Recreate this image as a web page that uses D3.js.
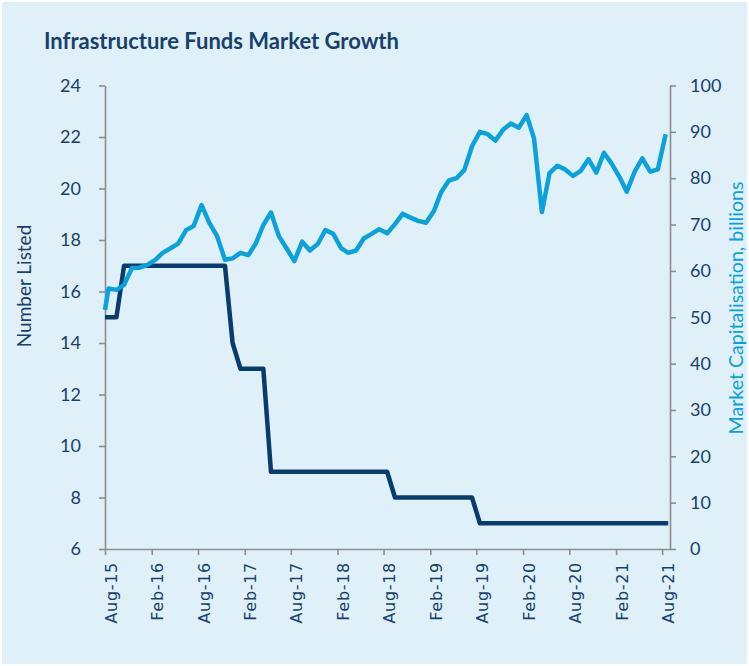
<!DOCTYPE html>
<html>
<head>
<meta charset="utf-8">
<script src="https://cdn.jsdelivr.net/npm/d3@7"></script>
<style>
  body { margin: 0; background: #ffffff; }
</style>
</head>
<body>
<svg id="chart" width="749" height="666"></svg>
<script>
// ---- data ----------------------------------------------------------------
// Monthly observations, Aug-15 .. Aug-21 (plotted mid-month)
const firstMonth = "2015-08";
const lastMonth = "2021-08";

// Market capitalisation, billions (right axis)
const marketCap = [
  56.2, 55.9, 57.0, 60.6, 60.7, 61.3, 62.4, 63.9, 64.9, 65.9, 68.8, 69.7,
  74.2, 70.3, 67.5, 62.4, 62.7, 63.9, 63.4, 65.8, 69.9, 72.6, 67.5, 64.9,
  62.1, 66.3, 64.4, 65.8, 68.8, 68.0, 64.9, 63.9, 64.4, 67.0, 68.0, 69.0,
  68.1, 70.1, 72.3, 71.5, 70.8, 70.4, 72.9, 76.9, 79.5, 80.0, 81.8, 86.9,
  90.0, 89.5, 88.1, 90.5, 91.8, 90.9, 93.6, 88.6, 72.7, 81.1, 82.7, 81.9,
  80.5, 81.6, 84.1, 81.2, 85.5, 83.1, 80.2, 77.1, 81.4, 84.3, 81.4, 81.9,
  89.5
];

// Number of funds listed (left axis)
const numberListed = [
  15, 15, 17, 17, 17, 17, 17, 17, 17, 17, 17, 17,
  17, 17, 17, 17, 14, 13, 13, 13, 13, 9, 9, 9,
  9, 9, 9, 9, 9, 9, 9, 9, 9, 9, 9, 9,
  9, 8, 8, 8, 8, 8, 8, 8, 8, 8, 8, 8,
  7, 7, 7, 7, 7, 7, 7, 7, 7, 7, 7, 7,
  7, 7, 7, 7, 7, 7, 7, 7, 7, 7, 7, 7,
  7
];

// Opening / closing observations outside the mid-month grid
const openDate = "2015-08-01";
const capOpen = 51.6;
const listedOpen = 15;
const closeDate = "2021-08-25";
const listedClose = 7;

// Axis labelling
const xTickLabels = ["Aug-15", "Feb-16", "Aug-16", "Feb-17", "Aug-17", "Feb-18", "Aug-18",
                     "Feb-19", "Aug-19", "Feb-20", "Aug-20", "Feb-21", "Aug-21"];
const leftTicks = [6, 8, 10, 12, 14, 16, 18, 20, 22, 24];
const rightTicks = [0, 10, 20, 30, 40, 50, 60, 70, 80, 90, 100];

const titleText = "Infrastructure Funds Market Growth";
const leftTitle = "Number Listed";
const rightTitle = "Market Capitalisation, billions";

// ---- layout --------------------------------------------------------------
const W = 749, H = 666;
const plot = { left: 105, right: 670, top: 85.5, bottom: 549 };
const navy = "#17406d";
const capColor = "#0aa2dd";
const listedColor = "#083c6e";
const axisGrey = "#8e8e8e";
const uiFont = "Lato, 'Open Sans', sans-serif";

const svg = d3.select("#chart");

svg.append("rect")
  .attr("x", 2).attr("y", 2)
  .attr("width", W - 4).attr("height", H - 4)
  .attr("fill", "#dff0f8");

const parseMonth = d3.timeParse("%Y-%m");
const parseDay = d3.timeParse("%Y-%m-%d");
const parseTick = d3.timeParse("%b-%y");

const months = d3.timeMonth.range(parseMonth(firstMonth), d3.timeMonth.offset(parseMonth(lastMonth), 1));
const midMonth = months.map(m => d3.timeDay.offset(m, 14));

const x = d3.scaleTime()
  .domain([parseDay(openDate), d3.timeMonth.offset(parseMonth(lastMonth), 1)])
  .range([plot.left, plot.right]);

const yLeft = d3.scaleLinear().domain([6, 24]).range([plot.bottom, plot.top]);
const yRight = d3.scaleLinear().domain([0, 100]).range([plot.bottom, plot.top]);

// ---- title ---------------------------------------------------------------
svg.append("text")
  .attr("x", 44).attr("y", 48.5)
  .style("font-family", uiFont)
  .style("font-size", "22px").style("font-weight", 700)
  .attr("fill", navy)
  .text(titleText);

// ---- axes ----------------------------------------------------------------
function styleAxis(g) {
  g.select(".domain").attr("stroke", axisGrey).attr("stroke-width", 1.6);
  g.selectAll(".tick line").attr("stroke", axisGrey).attr("stroke-width", 1.6);
}

const gLeft = svg.append("g")
  .attr("transform", `translate(${plot.left},0)`)
  .call(d3.axisLeft(yLeft).tickValues(leftTicks).tickSize(6).tickSizeOuter(0).tickPadding(18));
styleAxis(gLeft);
gLeft.selectAll(".tick text")
  .style("font-family", uiFont).style("font-size", "18px").attr("fill", navy);

const gRight = svg.append("g")
  .attr("transform", `translate(${plot.right},0)`)
  .call(d3.axisRight(yRight).tickValues(rightTicks).tickSize(6).tickSizeOuter(0).tickPadding(14));
styleAxis(gRight);
gRight.selectAll(".tick text")
  .style("font-family", uiFont).style("font-size", "18px").attr("fill", navy);

const gBottom = svg.append("g")
  .attr("transform", `translate(0,${plot.bottom})`)
  .call(d3.axisBottom(x).tickValues(xTickLabels.map(parseTick)).tickSize(6).tickSizeOuter(0)
    .tickFormat(d3.timeFormat("%b-%y")));
styleAxis(gBottom);
gBottom.selectAll(".tick text")
  .style("font-family", "'DejaVu Sans', sans-serif")
  .style("font-size", "16px")
  .style("letter-spacing", "0.7px")
  .attr("fill", navy)
  .attr("text-anchor", "end")
  .attr("dy", null).attr("y", null)
  .attr("transform", "translate(11,13) rotate(-90)");

// ---- axis titles ---------------------------------------------------------
svg.append("text")
  .attr("transform", `translate(31,286) rotate(-90)`)
  .attr("text-anchor", "middle")
  .style("font-family", uiFont).style("font-size", "19px")
  .attr("fill", navy)
  .text(leftTitle);

svg.append("text")
  .attr("transform", `translate(743,308) rotate(-90)`)
  .attr("text-anchor", "middle")
  .style("font-family", uiFont).style("font-size", "19.6px")
  .attr("fill", capColor)
  .text(rightTitle);

// ---- series --------------------------------------------------------------
const listedPts = [[parseDay(openDate), listedOpen]]
  .concat(midMonth.map((d, i) => [d, numberListed[i]]))
  .concat([[parseDay(closeDate), listedClose]]);

const capPts = [[parseDay(openDate), capOpen]]
  .concat(midMonth.map((d, i) => [d, marketCap[i]]));

svg.append("path")
  .datum(listedPts)
  .attr("fill", "none")
  .attr("stroke", listedColor)
  .attr("stroke-width", 4.5)
  .attr("stroke-linejoin", "round")
  .attr("d", d3.line().x(d => x(d[0])).y(d => yLeft(d[1])));

svg.append("path")
  .datum(capPts)
  .attr("fill", "none")
  .attr("stroke", capColor)
  .attr("stroke-width", 4.5)
  .attr("stroke-linejoin", "round")
  .attr("d", d3.line().x(d => x(d[0])).y(d => yRight(d[1])));
</script>
</body>
</html>
